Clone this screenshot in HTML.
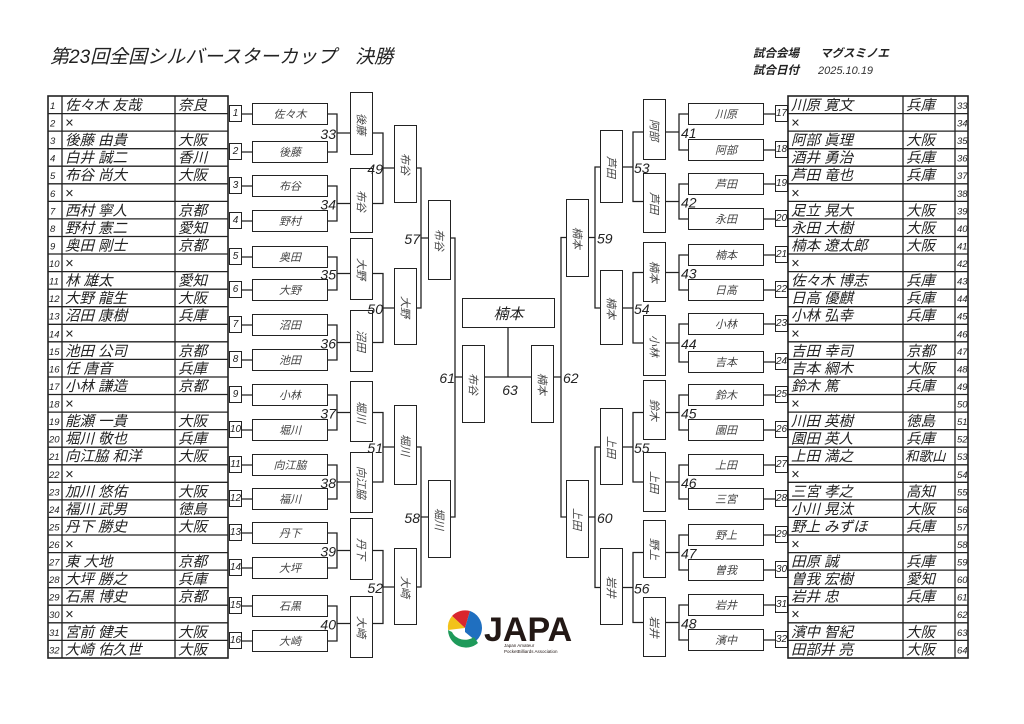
<!DOCTYPE html>
<html><head><meta charset="utf-8">
<style>
body{margin:0;background:#fff;}
#w{position:relative;width:1024px;height:724px;overflow:hidden;background:#fff;font-family:"Liberation Sans","Noto Sans CJK JP",sans-serif;}
svg{position:absolute;left:0;top:0;}
.b{position:absolute;box-sizing:border-box;border:1.3px solid #222;background:#fff;display:flex;align-items:center;justify-content:center;font-size:11px;color:#444;font-style:italic;}
.h{width:76px;height:22px;}
.n{width:13px;height:17px;font-size:10px;color:#222;}
.v{width:23px;writing-mode:vertical-rl;text-orientation:sideways;}
</style></head><body><div id="w">
<svg width="1024" height="724" viewBox="0 0 1024 724" font-family="Liberation Sans, Noto Sans CJK JP, sans-serif">
<text x="50" y="63" font-size="19" font-style="italic" fill="#222">第23回全国シルバースターカップ　決勝</text>
<text x="753" y="57" font-size="11.5" font-weight="bold" font-style="italic" fill="#222">試合会場</text>
<text x="820" y="57" font-size="11.5" font-weight="bold" font-style="italic" fill="#222">マグスミノエ</text>
<text x="753" y="74" font-size="11.5" font-weight="bold" font-style="italic" fill="#222">試合日付</text>
<text x="818" y="74" font-size="11" font-style="italic" fill="#333">2025.10.19</text>

<g stroke="#222" stroke-width="1.3" fill="none">
<rect x="48" y="96" width="180" height="562" stroke-width="1.6"/>
<path d="M62 96V658M175 96V658"/>
<rect x="788" y="96" width="180" height="562" stroke-width="1.6"/>
<path d="M903 96V658M955 96V658"/>
<path d="M48 113.6H228M48 131.1H228M48 148.7H228M48 166.2H228M48 183.8H228M48 201.4H228M48 218.9H228M48 236.5H228M48 254H228M48 271.6H228M48 289.2H228M48 306.7H228M48 324.3H228M48 341.8H228M48 359.4H228M48 377H228M48 394.5H228M48 412.1H228M48 429.6H228M48 447.2H228M48 464.8H228M48 482.3H228M48 499.9H228M48 517.4H228M48 535H228M48 552.6H228M48 570.1H228M48 587.7H228M48 605.2H228M48 622.8H228M48 640.4H228"/>
<path d="M788 113.6H968M788 131.1H968M788 148.7H968M788 166.2H968M788 183.8H968M788 201.4H968M788 218.9H968M788 236.5H968M788 254H968M788 271.6H968M788 289.2H968M788 306.7H968M788 324.3H968M788 341.8H968M788 359.4H968M788 377H968M788 394.5H968M788 412.1H968M788 429.6H968M788 447.2H968M788 464.8H968M788 482.3H968M788 499.9H968M788 517.4H968M788 535H968M788 552.6H968M788 570.1H968M788 587.7H968M788 605.2H968M788 622.8H968M788 640.4H968"/>
<path d="M241 114H252M241 152H252M241 186H252M241 221H252M241 257H252M241 290H252M241 325H252M241 360H252M241 395H252M241 430H252M241 465H252M241 499H252M241 533H252M241 568H252M241 606H252M241 641H252"/>
<path d="M764 114H775M764 150H775M764 184H775M764 219H775M764 255H775M764 290H775M764 324H775M764 362H775M764 395H775M764 430H775M764 465H775M764 499H775M764 535H775M764 570H775M764 605H775M764 640H775"/>
<path d="M328 114H337V152H328M337 133H350 M328 186H337V221H328M337 203.5H350 M328 257H337V290H328M337 273.5H350 M328 325H337V360H328M337 342.5H350 M328 395H337V430H328M337 412.5H350 M328 465H337V499H328M337 482H350 M328 533H337V568H328M337 550.5H350 M328 606H337V641H328M337 623.5H350"/>
<path d="M688 114H679V150H688M679 132H666 M688 184H679V219H688M679 201.5H666 M688 255H679V290H688M679 272.5H666 M688 324H679V362H688M679 343H666 M688 395H679V430H688M679 412.5H666 M688 465H679V499H688M679 482H666 M688 535H679V570H688M679 552.5H666 M688 605H679V640H688M679 622.5H666"/>
<path d="M372 133H383V203.5H372M383 168H394 M372 273.5H383V342.5H372M383 308H394 M372 412.5H383V482H372M383 447H394 M372 550.5H383V623.5H372M383 587H394"/>
<path d="M644 132H633V201.5H644M633 167H622 M644 272.5H633V343H644M633 308H622 M644 412.5H633V482H644M633 447H622 M644 552.5H633V622.5H644M633 587.5H622"/>
<path d="M416 168H421V308H416M421 238H428 M416 447H421V587H416M421 517H428"/>
<path d="M600 167H595V308H600M595 237.5H589 M600 447H595V587.5H600M595 517H589"/>
<path d="M449 238H455V517H449M455 377H462"/>
<path d="M567 237.5H561V517H567M561 377H554"/>
<path d="M508 328V377M484 377H532"/>
</g>

<g font-style="italic" fill="#222">
<g font-size="9.5">
<text x="50" y="109">1</text><text x="50" y="126.6">2</text><text x="50" y="144.1">3</text><text x="50" y="161.7">4</text><text x="50" y="179.2">5</text><text x="50" y="196.8">6</text><text x="50" y="214.4">7</text><text x="50" y="231.9">8</text><text x="50" y="249.5">9</text><text x="49" y="267">10</text><text x="49" y="284.6">11</text><text x="49" y="302.2">12</text><text x="49" y="319.7">13</text><text x="49" y="337.3">14</text><text x="49" y="354.8">15</text><text x="49" y="372.4">16</text><text x="49" y="390">17</text><text x="49" y="407.5">18</text><text x="49" y="425.1">19</text><text x="49" y="442.6">20</text><text x="49" y="460.2">21</text><text x="49" y="477.8">22</text><text x="49" y="495.3">23</text><text x="49" y="512.9">24</text><text x="49" y="530.4">25</text><text x="49" y="548">26</text><text x="49" y="565.6">27</text><text x="49" y="583.1">28</text><text x="49" y="600.7">29</text><text x="49" y="618.2">30</text><text x="49" y="635.8">31</text><text x="49" y="653.4">32</text>
<text x="957" y="109">33</text><text x="957" y="126.6">34</text><text x="957" y="144.1">35</text><text x="957" y="161.7">36</text><text x="957" y="179.2">37</text><text x="957" y="196.8">38</text><text x="957" y="214.4">39</text><text x="957" y="231.9">40</text><text x="957" y="249.5">41</text><text x="957" y="267">42</text><text x="957" y="284.6">43</text><text x="957" y="302.2">44</text><text x="957" y="319.7">45</text><text x="957" y="337.3">46</text><text x="957" y="354.8">47</text><text x="957" y="372.4">48</text><text x="957" y="390">49</text><text x="957" y="407.5">50</text><text x="957" y="425.1">51</text><text x="957" y="442.6">52</text><text x="957" y="460.2">53</text><text x="957" y="477.8">54</text><text x="957" y="495.3">55</text><text x="957" y="512.9">56</text><text x="957" y="530.4">57</text><text x="957" y="548">58</text><text x="957" y="565.6">59</text><text x="957" y="583.1">60</text><text x="957" y="600.7">61</text><text x="957" y="618.2">62</text><text x="957" y="635.8">63</text><text x="957" y="653.4">64</text>
</g>
<g font-size="14.5">
<text x="65" y="110">佐々木 友哉</text><text x="65" y="127.6">×</text><text x="65" y="145.1">後藤 由貴</text><text x="65" y="162.7">白井 誠二</text><text x="65" y="180.2">布谷 尚大</text><text x="65" y="197.8">×</text><text x="65" y="215.4">西村 寧人</text><text x="65" y="232.9">野村 憲二</text><text x="65" y="250.5">奥田 剛士</text><text x="65" y="268">×</text><text x="65" y="285.6">林 雄太</text><text x="65" y="303.2">大野 龍生</text><text x="65" y="320.7">沼田 康樹</text><text x="65" y="338.3">×</text><text x="65" y="355.8">池田 公司</text><text x="65" y="373.4">任 唐音</text><text x="65" y="391">小林 謙造</text><text x="65" y="408.5">×</text><text x="65" y="426.1">能瀬 一貴</text><text x="65" y="443.6">堀川 敬也</text><text x="65" y="461.2">向江脇 和洋</text><text x="65" y="478.8">×</text><text x="65" y="496.3">加川 悠佑</text><text x="65" y="513.9">福川 武男</text><text x="65" y="531.4">丹下 勝史</text><text x="65" y="549">×</text><text x="65" y="566.6">東 大地</text><text x="65" y="584.1">大坪 勝之</text><text x="65" y="601.7">石黒 博史</text><text x="65" y="619.2">×</text><text x="65" y="636.8">宮前 健夫</text><text x="65" y="654.4">大崎 佑久世</text>
<text x="178" y="110">奈良</text><text x="178" y="145.1">大阪</text><text x="178" y="162.7">香川</text><text x="178" y="180.2">大阪</text><text x="178" y="215.4">京都</text><text x="178" y="232.9">愛知</text><text x="178" y="250.5">京都</text><text x="178" y="285.6">愛知</text><text x="178" y="303.2">大阪</text><text x="178" y="320.7">兵庫</text><text x="178" y="355.8">京都</text><text x="178" y="373.4">兵庫</text><text x="178" y="391">京都</text><text x="178" y="426.1">大阪</text><text x="178" y="443.6">兵庫</text><text x="178" y="461.2">大阪</text><text x="178" y="496.3">大阪</text><text x="178" y="513.9">徳島</text><text x="178" y="531.4">大阪</text><text x="178" y="566.6">京都</text><text x="178" y="584.1">兵庫</text><text x="178" y="601.7">京都</text><text x="178" y="636.8">大阪</text><text x="178" y="654.4">大阪</text>

<text x="791" y="110">川原 寛文</text><text x="791" y="127.6">×</text><text x="791" y="145.1">阿部 眞理</text><text x="791" y="162.7">酒井 勇治</text><text x="791" y="180.2">芦田 竜也</text><text x="791" y="197.8">×</text><text x="791" y="215.4">足立 晃大</text><text x="791" y="232.9">永田 大樹</text><text x="791" y="250.5">楠本 遼太郎</text><text x="791" y="268">×</text><text x="791" y="285.6">佐々木 博志</text><text x="791" y="303.2">日高 優麒</text><text x="791" y="320.7">小林 弘幸</text><text x="791" y="338.3">×</text><text x="791" y="355.8">吉田 幸司</text><text x="791" y="373.4">吉本 綱木</text><text x="791" y="391">鈴木 篤</text><text x="791" y="408.5">×</text><text x="791" y="426.1">川田 英樹</text><text x="791" y="443.6">園田 英人</text><text x="791" y="461.2">上田 満之</text><text x="791" y="478.8">×</text><text x="791" y="496.3">三宮 孝之</text><text x="791" y="513.9">小川 晃汰</text><text x="791" y="531.4">野上 みずほ</text><text x="791" y="549">×</text><text x="791" y="566.6">田原 誠</text><text x="791" y="584.1">曽我 宏樹</text><text x="791" y="601.7">岩井 忠</text><text x="791" y="619.2">×</text><text x="791" y="636.8">濱中 智紀</text><text x="791" y="654.4">田部井 亮</text>
<text x="906" y="110">兵庫</text><text x="906" y="145.1">大阪</text><text x="906" y="162.7">兵庫</text><text x="906" y="180.2">兵庫</text><text x="906" y="215.4">大阪</text><text x="906" y="232.9">大阪</text><text x="906" y="250.5">大阪</text><text x="906" y="285.6">兵庫</text><text x="906" y="303.2">兵庫</text><text x="906" y="320.7">兵庫</text><text x="906" y="355.8">京都</text><text x="906" y="373.4">大阪</text><text x="906" y="391">兵庫</text><text x="906" y="426.1">徳島</text><text x="906" y="443.6">兵庫</text><text x="905" y="461.2" font-size="13.5">和歌山</text><text x="906" y="496.3">高知</text><text x="906" y="513.9">大阪</text><text x="906" y="531.4">兵庫</text><text x="906" y="566.6">兵庫</text><text x="906" y="584.1">愛知</text><text x="906" y="601.7">兵庫</text><text x="906" y="636.8">大阪</text><text x="906" y="654.4">大阪</text>
</g>
</g>

<g>
<path d="M465 628 L452 616 A18 18 0 0 1 470 611 Z" fill="#d9262e"/>
<path d="M465 628 L470 611 A18 18 0 0 1 482 628 Z" fill="#1f6fc0"/>
<path d="M465 628 L482 628 A18 18 0 0 1 476 641 L465 632Z" fill="#1f6fc0"/>
<path d="M465 628 L452 616 A18 18 0 0 0 448 630 Z" fill="#f2c21b"/>
<path d="M448 630 A18 18 0 0 0 478 643 L474 637 A14 12 0 0 1 452 632 Z" fill="#1e9a5a"/>
<text x="484" y="641" font-family="Liberation Sans, sans-serif" font-size="34" font-weight="bold" fill="#231815">JAPA</text>
<text x="504" y="647" font-size="4.5" fill="#231815">Japan Amateur</text>
<text x="504" y="653" font-size="4.5" fill="#231815">PocketBilliards Association</text>
</g>
</svg>

<div class="b n" style="left:229px;top:105px">1</div><div class="b h" style="left:252px;top:103px">佐々木</div>
<div class="b n" style="left:229px;top:143px">2</div><div class="b h" style="left:252px;top:141px">後藤</div>
<div class="b n" style="left:229px;top:177px">3</div><div class="b h" style="left:252px;top:175px">布谷</div>
<div class="b n" style="left:229px;top:212px">4</div><div class="b h" style="left:252px;top:210px">野村</div>
<div class="b n" style="left:229px;top:248px">5</div><div class="b h" style="left:252px;top:246px">奥田</div>
<div class="b n" style="left:229px;top:281px">6</div><div class="b h" style="left:252px;top:279px">大野</div>
<div class="b n" style="left:229px;top:316px">7</div><div class="b h" style="left:252px;top:314px">沼田</div>
<div class="b n" style="left:229px;top:351px">8</div><div class="b h" style="left:252px;top:349px">池田</div>
<div class="b n" style="left:229px;top:386px">9</div><div class="b h" style="left:252px;top:384px">小林</div>
<div class="b n" style="left:229px;top:421px">10</div><div class="b h" style="left:252px;top:419px">堀川</div>
<div class="b n" style="left:229px;top:456px">11</div><div class="b h" style="left:252px;top:454px">向江脇</div>
<div class="b n" style="left:229px;top:490px">12</div><div class="b h" style="left:252px;top:488px">福川</div>
<div class="b n" style="left:229px;top:524px">13</div><div class="b h" style="left:252px;top:522px">丹下</div>
<div class="b n" style="left:229px;top:559px">14</div><div class="b h" style="left:252px;top:557px">大坪</div>
<div class="b n" style="left:229px;top:597px">15</div><div class="b h" style="left:252px;top:595px">石黒</div>
<div class="b n" style="left:229px;top:632px">16</div><div class="b h" style="left:252px;top:630px">大崎</div>

<div class="b n" style="left:775px;top:105px">17</div><div class="b h" style="left:688px;top:103px">川原</div>
<div class="b n" style="left:775px;top:141px">18</div><div class="b h" style="left:688px;top:139px">阿部</div>
<div class="b n" style="left:775px;top:175px">19</div><div class="b h" style="left:688px;top:173px">芦田</div>
<div class="b n" style="left:775px;top:210px">20</div><div class="b h" style="left:688px;top:208px">永田</div>
<div class="b n" style="left:775px;top:246px">21</div><div class="b h" style="left:688px;top:244px">楠本</div>
<div class="b n" style="left:775px;top:281px">22</div><div class="b h" style="left:688px;top:279px">日高</div>
<div class="b n" style="left:775px;top:315px">23</div><div class="b h" style="left:688px;top:313px">小林</div>
<div class="b n" style="left:775px;top:353px">24</div><div class="b h" style="left:688px;top:351px">吉本</div>
<div class="b n" style="left:775px;top:386px">25</div><div class="b h" style="left:688px;top:384px">鈴木</div>
<div class="b n" style="left:775px;top:421px">26</div><div class="b h" style="left:688px;top:419px">園田</div>
<div class="b n" style="left:775px;top:456px">27</div><div class="b h" style="left:688px;top:454px">上田</div>
<div class="b n" style="left:775px;top:490px">28</div><div class="b h" style="left:688px;top:488px">三宮</div>
<div class="b n" style="left:775px;top:526px">29</div><div class="b h" style="left:688px;top:524px">野上</div>
<div class="b n" style="left:775px;top:561px">30</div><div class="b h" style="left:688px;top:559px">曽我</div>
<div class="b n" style="left:775px;top:596px">31</div><div class="b h" style="left:688px;top:594px">岩井</div>
<div class="b n" style="left:775px;top:631px">32</div><div class="b h" style="left:688px;top:629px">濱中</div>

<div class="b v" style="left:350px;top:92px;height:63px">後藤</div>
<div class="b v" style="left:350px;top:168px;height:65px">布谷</div>
<div class="b v" style="left:350px;top:238px;height:62px">大野</div>
<div class="b v" style="left:350px;top:310px;height:62px">沼田</div>
<div class="b v" style="left:350px;top:381px;height:61px">堀川</div>
<div class="b v" style="left:350px;top:452px;height:61px">向江脇</div>
<div class="b v" style="left:350px;top:518px;height:62px">丹下</div>
<div class="b v" style="left:350px;top:596px;height:62px">大崎</div>
<div class="b v" style="left:394px;top:125px;height:78px">布谷</div>
<div class="b v" style="left:394px;top:268px;height:77px">大野</div>
<div class="b v" style="left:394px;top:405px;height:80px">堀川</div>
<div class="b v" style="left:394px;top:548px;height:77px">大崎</div>
<div class="b v" style="left:428px;top:200px;height:80px">布谷</div>
<div class="b v" style="left:428px;top:480px;height:78px">堀川</div>
<div class="b v" style="left:462px;top:345px;height:78px">布谷</div>
<div class="b v" style="left:643px;top:99px;height:61px">阿部</div>
<div class="b v" style="left:643px;top:173px;height:60px">芦田</div>
<div class="b v" style="left:643px;top:242px;height:60px">楠本</div>
<div class="b v" style="left:643px;top:315px;height:61px">小林</div>
<div class="b v" style="left:643px;top:380px;height:60px">鈴木</div>
<div class="b v" style="left:643px;top:452px;height:60px">上田</div>
<div class="b v" style="left:643px;top:520px;height:58px">野上</div>
<div class="b v" style="left:643px;top:597px;height:60px">岩井</div>
<div class="b v" style="left:600px;top:130px;height:73px">芦田</div>
<div class="b v" style="left:600px;top:270px;height:75px">楠本</div>
<div class="b v" style="left:600px;top:408px;height:77px">上田</div>
<div class="b v" style="left:600px;top:548px;height:77px">岩井</div>
<div class="b v" style="left:566px;top:199px;height:78px">楠本</div>
<div class="b v" style="left:566px;top:480px;height:78px">上田</div>
<div class="b v" style="left:531px;top:345px;height:78px">楠本</div>
<div class="b" style="left:462px;top:298px;width:93px;height:30px;font-size:15px;color:#222">楠本</div>

<svg width="1024" height="724" viewBox="0 0 1024 724" font-family="Liberation Sans, sans-serif" style="pointer-events:none">
<g font-size="14" font-style="italic" fill="#222">
<g text-anchor="end">
<text x="336" y="139">33</text><text x="336" y="209.5">34</text><text x="336" y="279.5">35</text><text x="336" y="348.5">36</text><text x="336" y="418.5">37</text><text x="336" y="488">38</text><text x="336" y="556.5">39</text><text x="336" y="629.5">40</text>
<text x="383" y="174">49</text><text x="383" y="314">50</text><text x="383" y="453">51</text><text x="383" y="593">52</text>
<text x="420" y="244">57</text><text x="420" y="523">58</text>
<text x="455" y="383">61</text>
</g>
<text x="681" y="138">41</text><text x="681" y="207.5">42</text><text x="681" y="278.5">43</text><text x="681" y="349">44</text><text x="681" y="418.5">45</text><text x="681" y="488">46</text><text x="681" y="558.5">47</text><text x="681" y="628.5">48</text>
<text x="634" y="173">53</text><text x="634" y="314">54</text><text x="634" y="453">55</text><text x="634" y="593.5">56</text>
<text x="597" y="243.5">59</text><text x="597" y="523">60</text>
<text x="563" y="383">62</text>
<text x="510" y="395" text-anchor="middle">63</text>
</g>
</svg>
</div></body></html>
